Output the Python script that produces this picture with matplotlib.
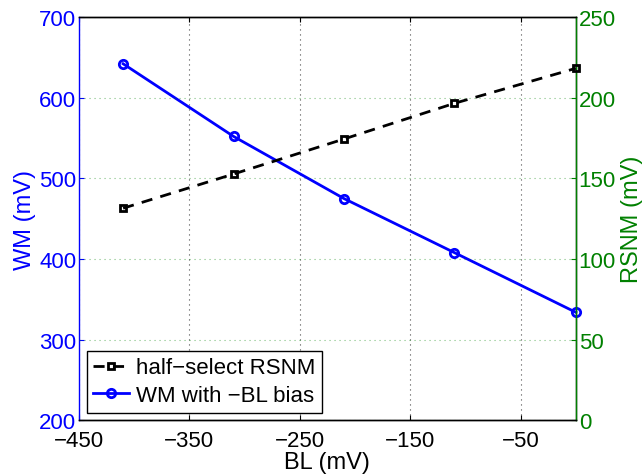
import matplotlib.pyplot as plt

plt.rcParams['font.family'] = ['Liberation Sans', 'DejaVu Sans']
plt.rcParams['axes.unicode_minus'] = True

# bit-line bias sweep (mV)
bl = [-410, -310, -210, -110, 0]
wm = [642, 552, 475, 408, 334]
rsnm = [131.5, 152.7, 174.4, 196.5, 218.2]

fig = plt.figure(figsize=(6.42, 4.77), dpi=100)
ax = fig.add_axes([0.123, 0.1164, 0.774, 0.8459])
ax2 = ax.twinx()

l2, = ax.plot(bl, wm, color='blue', marker='o', markersize=6, markerfacecolor='none',
              markeredgewidth=2, linewidth=2, clip_on=False, zorder=3)
l1, = ax2.plot(bl, rsnm, color='black', marker='s', markersize=5, markerfacecolor='none',
               markeredgewidth=2, linewidth=2, linestyle=(0, (4, 3)), clip_on=False, zorder=3)

ax.set_xlim(-450, 0)
ax.set_xticks([-450, -350, -250, -150, -50])
ax.set_ylim(200, 700)
ax.set_yticks(range(200, 701, 100))
ax2.set_ylim(0, 250)
ax2.set_yticks(range(0, 251, 50))

# grid: vertical black dotted, horizontal green dotted from the right axis
ax.grid(axis='x', color='black', linestyle=(0, (1, 3.5)), linewidth=0.8, alpha=0.7)
ax2.grid(axis='y', color='green', linestyle=(0, (1, 3.5)), linewidth=0.8, alpha=0.5)

ax.set_xlabel('BL (mV)', fontsize=17, labelpad=0)
ax.set_ylabel('WM (mV)', fontsize=17, color='blue', labelpad=2)
ax2.set_ylabel('RSNM (mV)', fontsize=17, color='green', labelpad=4)

ax.tick_params(axis='x', direction='in', labelsize=16, colors='black', top=True, pad=7)
ax.tick_params(axis='y', direction='in', labelsize=16, colors='blue', pad=2)
ax2.tick_params(axis='y', direction='in', labelsize=16, colors='green', pad=2)

ax.spines['left'].set_color('blue')
ax2.spines['left'].set_visible(False)
ax2.spines['right'].set_color('green')
for s in ax.spines.values():
    s.set_linewidth(1.0)
for s in ax2.spines.values():
    s.set_linewidth(1.0)

leg = ax2.legend([l1, l2], ['half−select RSNM', 'WM with −BL bias'], loc='lower left',
                 fontsize=16, fancybox=False, edgecolor='black', framealpha=1,
                 borderaxespad=0.35, borderpad=0.3, handlelength=1.6, handletextpad=0.3,
                 labelspacing=0.3)
leg.get_frame().set_linewidth(1.0)

fig.savefig('out.png', dpi=100)
